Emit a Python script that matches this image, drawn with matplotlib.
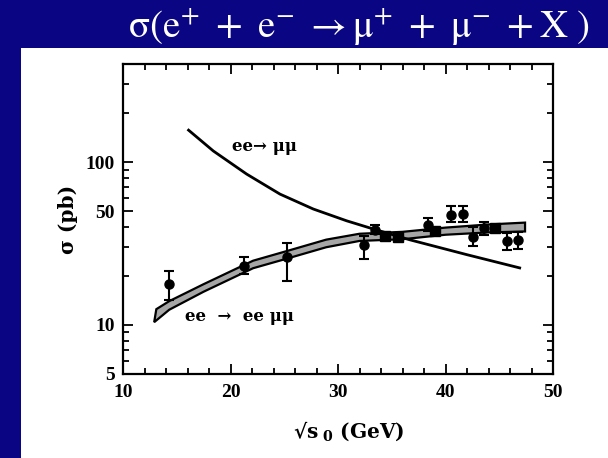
import matplotlib
matplotlib.use("Agg")
import matplotlib.pyplot as plt
import numpy as np
from matplotlib.patches import Rectangle
from matplotlib.ticker import FixedLocator, MultipleLocator, NullFormatter

# ee -> mu mu (QED) curve
mumu_x = [16.1, 18.4, 21.5, 24.6, 27.7, 30.8, 33.3, 36.7, 42.0, 46.9]
mumu_y = [157, 117, 84.4, 63.6, 51.5, 43.6, 38.8, 33.3, 27.0, 22.4]

# ee -> ee mu mu prediction band (lower / upper edge)
band_lo_x = [12.9, 14.3, 17.5, 22.1, 25.3, 28.9, 32.0, 36.0, 40.0, 44.0, 47.4]
band_lo = [10.4, 12.4, 16.0, 22.3, 25.6, 30.0, 32.8, 33.6, 35.8, 37.0, 37.5]
band_hi_x = [13.1, 14.3, 17.5, 22.1, 25.3, 28.9, 32.0, 36.0, 40.0, 44.0, 47.4]
band_hi = [12.5, 14.0, 17.8, 24.8, 28.5, 33.4, 36.3, 37.3, 39.6, 41.4, 42.5]

# measured points with error bars
pts_x = [14.3, 21.3, 25.3, 32.4, 33.4, 38.4, 40.5, 41.6, 42.6, 43.6, 45.7, 46.7]
pts_y = [17.8, 23.1, 26.0, 31.0, 38.5, 41.1, 47.3, 47.9, 34.5, 39.2, 32.6, 33.4]
pts_lo = [14.2, 20.6, 18.7, 25.4, 36.0, 37.8, 42.7, 43.0, 30.4, 35.6, 28.9, 29.2]
pts_hi = [21.4, 26.3, 31.8, 35.3, 41.0, 45.2, 53.5, 54.0, 39.7, 42.7, 36.7, 37.3]

# points drawn as squares
sq_x = [34.4, 35.6, 39.0, 44.6]
sq_y = [35.3, 34.5, 37.8, 39.2]

y_major = [5, 10, 50, 100]
y_major_labels = ["5", "10", "50", "100"]
y_minor = [6, 7, 8, 9, 20, 30, 40, 60, 70, 80, 90, 200, 300]
x_major = [10, 20, 30, 40, 50]

W, H = 608, 458
fig = plt.figure(figsize=(W / 100, H / 100), dpi=100, facecolor="#0a0582")
fig.patches.append(Rectangle((21 / W, 0), 1, (H - 48) / H, transform=fig.transFigure,
                             facecolor="white", edgecolor="none", zorder=-1))

title = r"$\mathrm{σ(e^{+}\ +\ e^{-}\ {\rightarrow}μ^{+}\ +\ μ^{-}\ +X\ )}$"
fig.text(359 / W, 1 - 27 / H, title, color="white", fontsize=28,
         ha="center", va="center", math_fontfamily="stix")

ax = fig.add_axes([123 / W, 1 - 374 / H, 430 / W, 310 / H])
ax.set_facecolor("white")

# band
poly_x = list(band_lo_x) + list(band_hi_x[::-1])
poly_y = list(band_lo) + list(band_hi[::-1])
ax.fill(poly_x, poly_y, facecolor="#a6a6a6", edgecolor="black", lw=1.6, zorder=2)

# QED curve
ax.plot(mumu_x, mumu_y, color="black", lw=2, zorder=3)

# data
ax.errorbar(pts_x, pts_y,
            yerr=[np.array(pts_y) - np.array(pts_lo), np.array(pts_hi) - np.array(pts_y)],
            fmt="o", color="black", ms=6.5, capsize=3.5, elinewidth=1.5, capthick=1.5, zorder=4)
ax.plot(sq_x, sq_y, "s", color="black", ms=6.5, zorder=4)

ax.set_yscale("log")
ax.set_xlim(10, 50)
ax.set_ylim(5, 400)

ax.set_yticks(y_major)
ax.set_yticklabels(y_major_labels)
ax.yaxis.set_minor_locator(FixedLocator(y_minor))
ax.yaxis.set_minor_formatter(NullFormatter())
ax.set_xticks(x_major)
ax.xaxis.set_minor_locator(MultipleLocator(2))

ax.tick_params(which="both", direction="in", top=True, right=True, width=1.3, color="black")
ax.tick_params(which="major", length=7)
ax.tick_params(which="minor", length=4.5)
ax.tick_params(axis="x", pad=7)
ax.tick_params(axis="y", pad=6)
for lab in ax.get_xticklabels() + ax.get_yticklabels():
    lab.set_family("Liberation Serif")
    lab.set_fontweight("bold")
    lab.set_fontsize(14)
for s in ax.spines.values():
    s.set_linewidth(1.6)

lab_font = dict(family="DejaVu Serif", fontweight="bold", fontsize=14.5)
ax.set_ylabel("σ (pb)", labelpad=5, **lab_font)
ax.text(0.525, -0.145, r"√s$_{\mathbf{\ 0}}$ (GeV)", transform=ax.transAxes,
        ha="center", va="top", math_fontfamily="dejavuserif", **lab_font)

ann_font = dict(family="DejaVu Serif", fontweight="bold", fontsize=12)
ax.text(20.1, 125, "ee→ μμ", ha="left", va="center", **ann_font)
ax.text(15.8, 11.35, "ee  →  ee μμ", ha="left", va="center", **ann_font)

fig.savefig("out.png", dpi=100, facecolor=fig.get_facecolor())
